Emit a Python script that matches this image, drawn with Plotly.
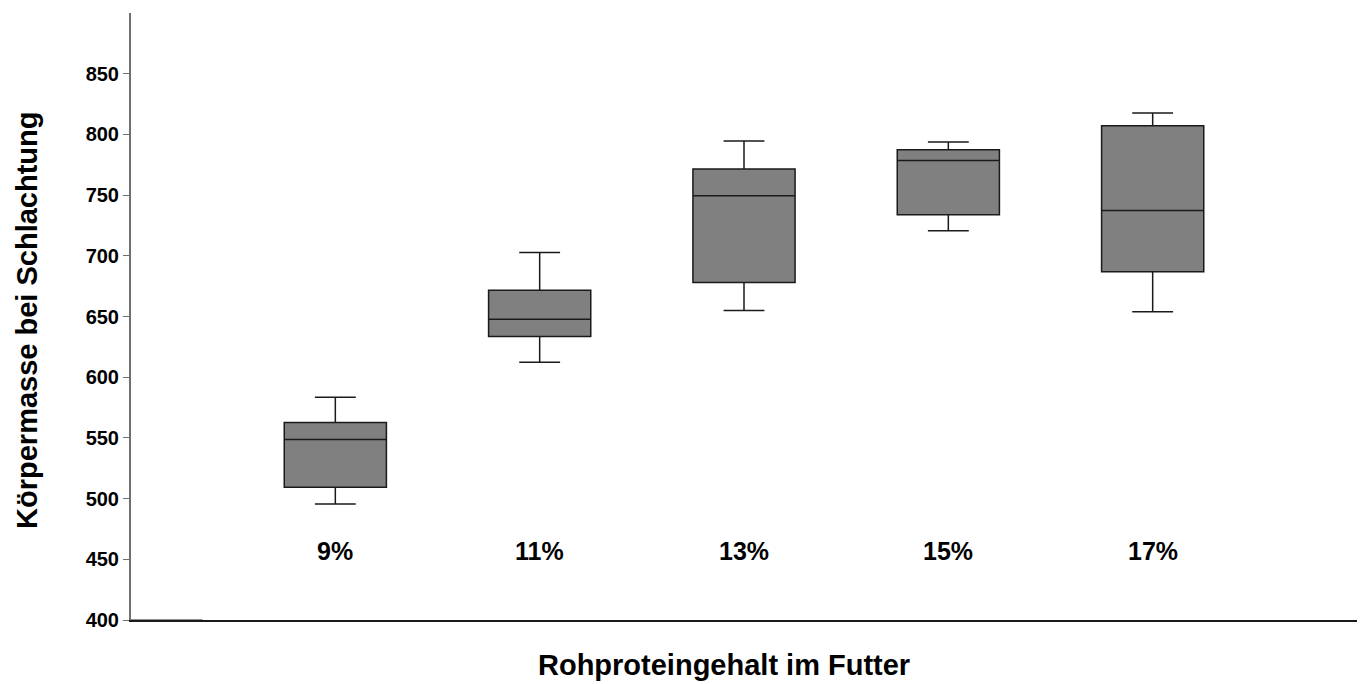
import plotly.graph_objects as go

categories = ["9%", "11%", "13%", "15%", "17%"]
positions = [0, 1, 2, 3, 4]
lower_whisker = [495.6, 612.4, 654.9, 720.6, 654.0]
q1_vals = [509.4, 633.5, 678.0, 733.8, 686.8]
median_vals = [548.6, 647.8, 749.5, 778.6, 737.3]
q3_vals = [562.6, 671.7, 771.5, 787.4, 807.2]
upper_whisker = [583.5, 702.7, 794.5, 793.7, 817.6]
label_y = 457
y_ticks = [400, 450, 500, 550, 600, 650, 700, 750, 800, 850]

FONT = "Liberation Sans, Arial, sans-serif"

fig = go.Figure()
fig.add_trace(go.Box(
    x=positions,
    q1=q1_vals,
    median=median_vals,
    q3=q3_vals,
    lowerfence=lower_whisker,
    upperfence=upper_whisker,
    width=0.5,
    whiskerwidth=0.4,
    fillcolor="#808080",
    line=dict(color="#1a1a1a", width=1.5),
    boxpoints=False,
    showlegend=False,
    hoverinfo="skip",
))

for xi, lab in zip(positions, categories):
    fig.add_annotation(x=xi, y=label_y, xref="x", yref="y", text=lab,
                       showarrow=False, xanchor="center", yanchor="middle",
                       font=dict(family=FONT, size=25, color="black", weight="bold"))

fig.add_annotation(x=-0.085, y=0.494, xref="paper", yref="paper",
                   text="Körpermasse bei Schlachtung", textangle=-90,
                   showarrow=False, xanchor="center", yanchor="middle",
                   font=dict(family=FONT, size=29, color="black", weight="bold"))
fig.add_annotation(x=0.484, y=-0.074, xref="paper", yref="paper",
                   text="Rohproteingehalt im Futter",
                   showarrow=False, xanchor="center", yanchor="middle",
                   font=dict(family=FONT, size=29, color="black", weight="bold"))

# short gray baseline segment at the start of the x axis
fig.add_shape(type="line", xref="x", yref="y", x0=-1, x1=-0.65, y0=400, y1=400,
              line=dict(color="#909090", width=2), layer="above")

fig.update_layout(
    width=1363, height=684,
    margin=dict(l=131, r=6, t=13, b=64),
    paper_bgcolor="white", plot_bgcolor="white",
    font=dict(family=FONT, color="black"),
    xaxis=dict(range=[-1, 5], showticklabels=False, ticks="", showgrid=False,
               zeroline=False, showline=True, linecolor="#1a1a1a", linewidth=1.5),
    yaxis=dict(range=[400, 900], tickvals=y_ticks, showgrid=False, zeroline=False,
               showline=True, linecolor="#707070", linewidth=2,
               ticks="outside", ticklen=6, tickcolor="#707070", tickwidth=1,
               tickfont=dict(family=FONT, size=20, color="black", weight="bold")),
)

fig.write_html("out.html")
